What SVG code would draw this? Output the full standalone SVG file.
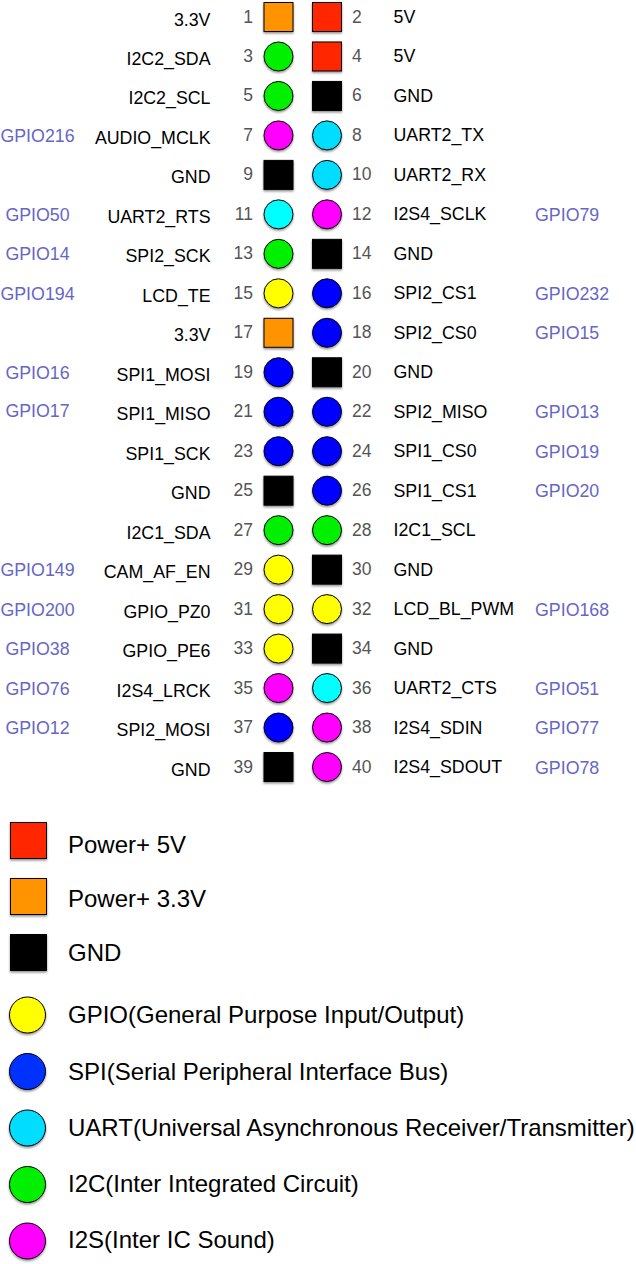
<svg xmlns="http://www.w3.org/2000/svg" width="636" height="1264" viewBox="0 0 636 1264">
<defs>
<filter id="sh" x="-30%" y="-30%" width="160%" height="170%">
<feDropShadow dx="0" dy="1.5" stdDeviation="1.2" flood-color="#000" flood-opacity="0.45"/>
</filter>
</defs>
<style>
text{font-family:"Liberation Sans",Arial,Helvetica,sans-serif;font-size:17.8px}
.num{fill:#555;font-size:17.5px}
.lbl{fill:#000}
.gp{fill:#6666c8}
.l{text-anchor:end}
.gl{text-anchor:middle}
.leg{font-size:24px;fill:#000}
.p{stroke:#000;stroke-width:1;filter:url(#sh)}
.red{fill:#ff2600}.org{fill:#ff9300}.blk{fill:#000}.yel{fill:#ffff00}.blu{fill:#0000ff}.cya{fill:#00ddff}.cyb{fill:#00ffff}.grn{fill:#00f000}.mag{fill:#ff00ff}
.lblu{fill:#0433ff}
</style>
<rect width="636" height="1264" fill="#fff"/>
<g id="header">
<g id="pin1" transform="translate(0,17)"><rect class="p org" x="264" y="-14.5" width="29" height="29"/><text class="num l" x="253" y="5.5">1</text><text class="lbl l" x="210.5" y="8.5">3.3V</text></g>
<g id="pin2" transform="translate(0,17)"><rect class="p red" x="312.5" y="-14.5" width="29" height="29"/><text class="num" x="352" y="5.5">2</text><text class="lbl" x="393.5" y="6">5V</text></g>
<g id="pin3" transform="translate(0,56.47)"><circle class="p grn" cx="278.5" cy="0" r="14.5"/><text class="num l" x="253" y="5.5">3</text><text class="lbl l" x="210.5" y="8.5">I2C2_SDA</text></g>
<g id="pin4" transform="translate(0,56.47)"><rect class="p red" x="312.5" y="-14.5" width="29" height="29"/><text class="num" x="352" y="5.5">4</text><text class="lbl" x="393.5" y="6">5V</text></g>
<g id="pin5" transform="translate(0,95.95)"><circle class="p grn" cx="278.5" cy="0" r="14.5"/><text class="num l" x="253" y="5.5">5</text><text class="lbl l" x="210.5" y="8.5">I2C2_SCL</text></g>
<g id="pin6" transform="translate(0,95.95)"><rect class="p blk" x="312.5" y="-14.5" width="29" height="29"/><text class="num" x="352" y="5.5">6</text><text class="lbl" x="393.5" y="6">GND</text></g>
<g id="pin7" transform="translate(0,135.42)"><circle class="p mag" cx="278.5" cy="0" r="14.5"/><text class="num l" x="253" y="5.5">7</text><text class="lbl l" x="210.5" y="8.5">AUDIO_MCLK</text><text class="gp gl" x="37.5" y="6.5">GPIO216</text></g>
<g id="pin8" transform="translate(0,135.42)"><circle class="p cya" cx="327" cy="0" r="14.5"/><text class="num" x="352" y="5.5">8</text><text class="lbl" x="393.5" y="6">UART2_TX</text></g>
<g id="pin9" transform="translate(0,174.89)"><rect class="p blk" x="264" y="-14.5" width="29" height="29"/><text class="num l" x="253" y="5.5">9</text><text class="lbl l" x="210.5" y="8.5">GND</text></g>
<g id="pin10" transform="translate(0,174.89)"><circle class="p cya" cx="327" cy="0" r="14.5"/><text class="num" x="352" y="5.5">10</text><text class="lbl" x="393.5" y="6">UART2_RX</text></g>
<g id="pin11" transform="translate(0,214.37)"><circle class="p cyb" cx="278.5" cy="0" r="14.5"/><text class="num l" x="253" y="5.5">11</text><text class="lbl l" x="210.5" y="8.5">UART2_RTS</text><text class="gp gl" x="37.5" y="6.5">GPIO50</text></g>
<g id="pin12" transform="translate(0,214.37)"><circle class="p mag" cx="327" cy="0" r="14.5"/><text class="num" x="352" y="5.5">12</text><text class="lbl" x="393.5" y="6">I2S4_SCLK</text><text class="gp" x="535" y="6.5">GPIO79</text></g>
<g id="pin13" transform="translate(0,253.84)"><circle class="p grn" cx="278.5" cy="0" r="14.5"/><text class="num l" x="253" y="5.5">13</text><text class="lbl l" x="210.5" y="8.5">SPI2_SCK</text><text class="gp gl" x="37.5" y="6.5">GPIO14</text></g>
<g id="pin14" transform="translate(0,253.84)"><rect class="p blk" x="312.5" y="-14.5" width="29" height="29"/><text class="num" x="352" y="5.5">14</text><text class="lbl" x="393.5" y="6">GND</text></g>
<g id="pin15" transform="translate(0,293.32)"><circle class="p yel" cx="278.5" cy="0" r="14.5"/><text class="num l" x="253" y="5.5">15</text><text class="lbl l" x="210.5" y="8.5">LCD_TE</text><text class="gp gl" x="37.5" y="6.5">GPIO194</text></g>
<g id="pin16" transform="translate(0,293.32)"><circle class="p blu" cx="327" cy="0" r="14.5"/><text class="num" x="352" y="5.5">16</text><text class="lbl" x="393.5" y="6">SPI2_CS1</text><text class="gp" x="535" y="6.5">GPIO232</text></g>
<g id="pin17" transform="translate(0,332.79)"><rect class="p org" x="264" y="-14.5" width="29" height="29"/><text class="num l" x="253" y="5.5">17</text><text class="lbl l" x="210.5" y="8.5">3.3V</text></g>
<g id="pin18" transform="translate(0,332.79)"><circle class="p blu" cx="327" cy="0" r="14.5"/><text class="num" x="352" y="5.5">18</text><text class="lbl" x="393.5" y="6">SPI2_CS0</text><text class="gp" x="535" y="6.5">GPIO15</text></g>
<g id="pin19" transform="translate(0,372.26)"><circle class="p blu" cx="278.5" cy="0" r="14.5"/><text class="num l" x="253" y="5.5">19</text><text class="lbl l" x="210.5" y="8.5">SPI1_MOSI</text><text class="gp gl" x="37.5" y="6.5">GPIO16</text></g>
<g id="pin20" transform="translate(0,372.26)"><rect class="p blk" x="312.5" y="-14.5" width="29" height="29"/><text class="num" x="352" y="5.5">20</text><text class="lbl" x="393.5" y="6">GND</text></g>
<g id="pin21" transform="translate(0,411.74)"><circle class="p blu" cx="278.5" cy="0" r="14.5"/><text class="num l" x="253" y="5.5">21</text><text class="lbl l" x="210.5" y="8.5">SPI1_MISO</text><text class="gp gl" x="37.5" y="5.5">GPIO17</text></g>
<g id="pin22" transform="translate(0,411.74)"><circle class="p blu" cx="327" cy="0" r="14.5"/><text class="num" x="352" y="5.5">22</text><text class="lbl" x="393.5" y="6">SPI2_MISO</text><text class="gp" x="535" y="6.5">GPIO13</text></g>
<g id="pin23" transform="translate(0,451.21)"><circle class="p blu" cx="278.5" cy="0" r="14.5"/><text class="num l" x="253" y="5.5">23</text><text class="lbl l" x="210.5" y="8.5">SPI1_SCK</text></g>
<g id="pin24" transform="translate(0,451.21)"><circle class="p blu" cx="327" cy="0" r="14.5"/><text class="num" x="352" y="5.5">24</text><text class="lbl" x="393.5" y="6">SPI1_CS0</text><text class="gp" x="535" y="6.5">GPIO19</text></g>
<g id="pin25" transform="translate(0,490.68)"><rect class="p blk" x="264" y="-14.5" width="29" height="29"/><text class="num l" x="253" y="5.5">25</text><text class="lbl l" x="210.5" y="8.5">GND</text></g>
<g id="pin26" transform="translate(0,490.68)"><circle class="p blu" cx="327" cy="0" r="14.5"/><text class="num" x="352" y="5.5">26</text><text class="lbl" x="393.5" y="6">SPI1_CS1</text><text class="gp" x="535" y="6.5">GPIO20</text></g>
<g id="pin27" transform="translate(0,530.16)"><circle class="p grn" cx="278.5" cy="0" r="14.5"/><text class="num l" x="253" y="5.5">27</text><text class="lbl l" x="210.5" y="8.5">I2C1_SDA</text></g>
<g id="pin28" transform="translate(0,530.16)"><circle class="p grn" cx="327" cy="0" r="14.5"/><text class="num" x="352" y="5.5">28</text><text class="lbl" x="393.5" y="6">I2C1_SCL</text></g>
<g id="pin29" transform="translate(0,569.63)"><circle class="p yel" cx="278.5" cy="0" r="14.5"/><text class="num l" x="253" y="5.5">29</text><text class="lbl l" x="210.5" y="8.5">CAM_AF_EN</text><text class="gp gl" x="37.5" y="6.5">GPIO149</text></g>
<g id="pin30" transform="translate(0,569.63)"><rect class="p blk" x="312.5" y="-14.5" width="29" height="29"/><text class="num" x="352" y="5.5">30</text><text class="lbl" x="393.5" y="6">GND</text></g>
<g id="pin31" transform="translate(0,609.11)"><circle class="p yel" cx="278.5" cy="0" r="14.5"/><text class="num l" x="253" y="5.5">31</text><text class="lbl l" x="210.5" y="8.5">GPIO_PZ0</text><text class="gp gl" x="37.5" y="6.5">GPIO200</text></g>
<g id="pin32" transform="translate(0,609.11)"><circle class="p yel" cx="327" cy="0" r="14.5"/><text class="num" x="352" y="5.5">32</text><text class="lbl" x="393.5" y="6">LCD_BL_PWM</text><text class="gp" x="535" y="6.5">GPIO168</text></g>
<g id="pin33" transform="translate(0,648.58)"><circle class="p yel" cx="278.5" cy="0" r="14.5"/><text class="num l" x="253" y="5.5">33</text><text class="lbl l" x="210.5" y="8.5">GPIO_PE6</text><text class="gp gl" x="37.5" y="6.5">GPIO38</text></g>
<g id="pin34" transform="translate(0,648.58)"><rect class="p blk" x="312.5" y="-14.5" width="29" height="29"/><text class="num" x="352" y="5.5">34</text><text class="lbl" x="393.5" y="6">GND</text></g>
<g id="pin35" transform="translate(0,688.05)"><circle class="p mag" cx="278.5" cy="0" r="14.5"/><text class="num l" x="253" y="5.5">35</text><text class="lbl l" x="210.5" y="8.5">I2S4_LRCK</text><text class="gp gl" x="37.5" y="6.5">GPIO76</text></g>
<g id="pin36" transform="translate(0,688.05)"><circle class="p cyb" cx="327" cy="0" r="14.5"/><text class="num" x="352" y="5.5">36</text><text class="lbl" x="393.5" y="6">UART2_CTS</text><text class="gp" x="535" y="6.5">GPIO51</text></g>
<g id="pin37" transform="translate(0,727.53)"><circle class="p blu" cx="278.5" cy="0" r="14.5"/><text class="num l" x="253" y="5.5">37</text><text class="lbl l" x="210.5" y="8.5">SPI2_MOSI</text><text class="gp gl" x="37.5" y="6.5">GPIO12</text></g>
<g id="pin38" transform="translate(0,727.53)"><circle class="p mag" cx="327" cy="0" r="14.5"/><text class="num" x="352" y="5.5">38</text><text class="lbl" x="393.5" y="6">I2S4_SDIN</text><text class="gp" x="535" y="6.5">GPIO77</text></g>
<g id="pin39" transform="translate(0,767)"><rect class="p blk" x="264" y="-14.5" width="29" height="29"/><text class="num l" x="253" y="5.5">39</text><text class="lbl l" x="210.5" y="8.5">GND</text></g>
<g id="pin40" transform="translate(0,767)"><circle class="p mag" cx="327" cy="0" r="14.5"/><text class="num" x="352" y="5.5">40</text><text class="lbl" x="393.5" y="6">I2S4_SDOUT</text><text class="gp" x="535" y="6.5">GPIO78</text></g>
</g>
<g id="legend">
<g id="leg-5v"><rect class="p red" x="10.5" y="822.5" width="36" height="36"/><text class="leg" x="68" y="852.5">Power+ 5V</text></g>
<g id="leg-33v"><rect class="p org" x="10.5" y="878.5" width="36" height="36"/><text class="leg" x="68" y="906.7">Power+ 3.3V</text></g>
<g id="leg-gnd"><rect class="p blk" x="10.5" y="934.5" width="36" height="36"/><text class="leg" x="68" y="960.7">GND</text></g>
<g id="leg-gpio"><circle class="p yel" cx="27.5" cy="1015" r="18"/><text class="leg" x="68" y="1023.3">GPIO(General Purpose Input/Output)</text></g>
<g id="leg-spi"><circle class="p lblu" cx="27.5" cy="1071.5" r="18"/><text class="leg" x="68" y="1080">SPI(Serial Peripheral Interface Bus)</text></g>
<g id="leg-uart"><circle class="p cya" cx="27.5" cy="1128" r="18"/><text class="leg" x="68" y="1135.7">UART(Universal Asynchronous Receiver/Transmitter)</text></g>
<g id="leg-i2c"><circle class="p grn" cx="27.5" cy="1184.5" r="18"/><text class="leg" x="68" y="1192.3">I2C(Inter Integrated Circuit)</text></g>
<g id="leg-i2s"><circle class="p mag" cx="27.5" cy="1241" r="18"/><text class="leg" x="68" y="1248.3">I2S(Inter IC Sound)</text></g>
</g>
</svg>
